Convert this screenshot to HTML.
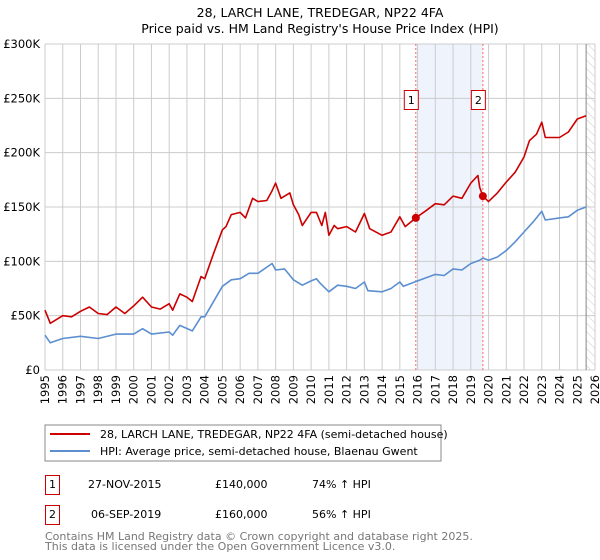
<!DOCTYPE html>
<html><head><meta charset="utf-8"><style>
body{margin:0;background:#fff;width:600px;height:560px;overflow:hidden;font-family:"DejaVu Sans","Liberation Sans",sans-serif}
svg{display:block}
</style></head><body>
<svg id="c" width="600" height="560" font-family="DejaVu Sans, Liberation Sans, sans-serif">
<defs><pattern id="hatch" width="6" height="6" patternUnits="userSpaceOnUse" patternTransform="rotate(-45)"><line x1="0" y1="0" x2="0" y2="6" stroke="#ccc" stroke-width="1"/></pattern></defs>
<text x="320" y="17" text-anchor="middle" font-size="12.5" fill="#000">28, LARCH LANE, TREDEGAR, NP22 4FA</text>
<text x="320" y="33" text-anchor="middle" font-size="12.5" fill="#000">Price paid vs. HM Land Registry's House Price Index (HPI)</text>
<g id="grid"></g><g id="marks"></g><g id="axes"></g>
<rect x="45" y="425" width="396" height="36" fill="#fff" stroke="#888"/>
<line x1="50" y1="434" x2="90" y2="434" stroke="#cc0000" stroke-width="2"/>
<text x="100" y="438" font-size="11">28, LARCH LANE, TREDEGAR, NP22 4FA (semi-detached house)</text>
<line x1="50" y1="451" x2="90" y2="451" stroke="#5b8fd0" stroke-width="2"/>
<text x="100" y="455" font-size="11">HPI: Average price, semi-detached house, Blaenau Gwent</text>
<g font-size="11" fill="#000">
<rect x="45.5" y="475.5" width="14" height="19" fill="none" stroke="#c00"/>
<text x="52.5" y="488" text-anchor="middle">1</text>
<text x="88" y="488">27-NOV-2015</text>
<text x="215" y="488">£140,000</text>
<text x="312" y="488">74% ↑ HPI</text>
<rect x="45.5" y="505.5" width="14" height="19" fill="none" stroke="#c00"/>
<text x="52.5" y="518" text-anchor="middle">2</text>
<text x="91" y="518">06-SEP-2019</text>
<text x="215" y="518">£160,000</text>
<text x="312" y="518">56% ↑ HPI</text>
</g>
<text x="45" y="540" font-size="11" fill="#777">Contains HM Land Registry data © Crown copyright and database right 2025.</text>
<text x="45" y="550" font-size="11" fill="#777">This data is licensed under the Open Government Licence v3.0.</text>
</svg>
<script>
const yTicks=[0,50,100,150,200,250,300];
const yTickLabels=["£0","£50K","£100K","£150K","£200K","£250K","£300K"];
const years=[1995,1996,1997,1998,1999,2000,2001,2002,2003,2004,2005,2006,2007,2008,2009,2010,2011,2012,2013,2014,2015,2016,2017,2018,2019,2020,2021,2022,2023,2024,2025,2026];
const saleDates=[2015.9,2019.68];
const salePrices=[140,160];
const saleLabels=["1","2"];
const hpiT=[1995,1995.3,1996,1997,1998,1999,2000,2000.5,2001,2002,2002.2,2002.6,2003.3,2003.8,2004,2005,2005.5,2006,2006.5,2007,2007.8,2008,2008.5,2009,2009.5,2010,2010.3,2010.5,2011,2011.5,2012,2012.5,2013,2013.2,2014,2014.5,2015,2015.2,2016,2016.5,2017,2017.5,2018,2018.5,2019,2019.5,2019.7,2020,2020.5,2021,2021.5,2022,2022.5,2023,2023.2,2024,2024.5,2025,2025.5];
const hpiV=[32,25,29,31,29,33,33,38,33,35,32,41,36,49,49,77,83,84,89,89,98,92,93,83,78,82,84,80,72,78,77,75,81,73,72,75,81,77,82,85,88,87,93,92,98,101,103,101,104,110,118,127,136,146,138,140,141,147,150];
const priceT=[1995,1995.3,1996,1996.5,1997,1997.5,1998,1998.5,1999,1999.5,2000,2000.5,2001,2001.5,2002,2002.2,2002.6,2003,2003.3,2003.8,2004,2004.5,2005,2005.2,2005.5,2006,2006.3,2006.7,2007,2007.5,2007.8,2008,2008.3,2008.8,2009,2009.3,2009.5,2010,2010.3,2010.6,2010.8,2011,2011.3,2011.5,2012,2012.5,2013,2013.3,2014,2014.5,2015,2015.3,2015.9,2016.5,2017,2017.5,2018,2018.5,2019,2019.4,2019.5,2019.68,2020,2020.5,2021,2021.5,2022,2022.3,2022.7,2023,2023.2,2024,2024.5,2025,2025.5];
const priceV=[55,43,50,49,54,58,52,51,58,52,59,67,58,56,61,55,70,67,63,86,84,107,129,132,143,145,140,158,155,156,165,172,158,163,152,143,133,145,145,133,145,124,133,130,132,127,144,130,124,127,141,132,140,147,153,152,160,158,172,179,168,160,155,163,173,182,196,211,217,228,214,214,219,231,234];

const X0=45,X1=595,Y0=370,Y1=44;
const xs=t=>X0+(t-1995)/(2026-1995)*(X1-X0);
const ys=v=>Y0-v/300*(Y0-Y1);
const NS="http://www.w3.org/2000/svg";
function mk(tag,attrs,parent){const e=document.createElementNS(NS,tag);for(const k in attrs)e.setAttribute(k,attrs[k]);parent.appendChild(e);return e;}
const grid=document.getElementById('grid'),marks=document.getElementById('marks'),axes=document.getElementById('axes');
// shaded region between sales
let r=mk('rect',{x:xs(saleDates[0]),y:Y1,width:xs(saleDates[1])-xs(saleDates[0]),height:Y0-Y1,fill:'#eef3fc'},grid);


let h=mk('rect',{x:xs(2025.5),y:Y1,width:X1-xs(2025.5),height:Y0-Y1,fill:'url(#hatch)'},grid);


years.forEach(y=>{
 const l=mk('line',{x1:xs(y),x2:xs(y),y1:Y1,y2:Y0,stroke:'#ccc','stroke-width':1},grid);
 
 
 const t=mk('text',{x:0,y:0,'font-size':11.5,'text-anchor':'end',transform:`translate(${xs(y)+4},${Y0+5}) rotate(-90)`},axes);
 t.textContent=y;
 
 
});
yTicks.forEach((v,i)=>{
 const l=mk('line',{x1:X0,x2:X1,y1:ys(v),y2:ys(v),stroke:'#ccc','stroke-width':1},grid);
 
 
 const t=mk('text',{x:X0-5,y:ys(v)+4,'font-size':11.5,'text-anchor':'end'},axes);
 t.textContent=yTickLabels[i];
 
 
});
let nl=mk('line',{x1:xs(2025.5),x2:xs(2025.5),y1:Y1,y2:Y0,stroke:'#888','stroke-width':1},grid);


saleDates.forEach((d,i)=>{
 const l=mk('line',{x1:xs(d),x2:xs(d),y1:Y1,y2:Y0,stroke:'#f66','stroke-width':1,'stroke-dasharray':'2,2'},marks);
 
 
});
function path(T,V,col,name){
 const d=T.map((t,i)=>(i?'L':'M')+xs(t).toFixed(1)+','+ys(V[i]).toFixed(1)).join('');
 const p=mk('path',{d:d,fill:'none',stroke:col,'stroke-width':1.6,'stroke-linejoin':'round'},marks);
 
 
}
path(hpiT,hpiV,'#5b8fd0','hpi-line');
path(priceT,priceV,'#cc0000','price-line');
saleDates.forEach((d,i)=>{
 const c=mk('circle',{cx:xs(d),cy:ys(salePrices[i]),r:4,fill:'#cc0000'},marks);
 
 
 const b=mk('rect',{x:xs(d)-11.5,y:90.5,width:14,height:19,fill:'#fff',stroke:'#c00'},marks);
 
 
 const t=mk('text',{x:xs(d)-4.5,y:104,'font-size':11,'text-anchor':'middle'},marks);
 t.textContent=saleLabels[i];
 
 
});
</script>
</body></html>
